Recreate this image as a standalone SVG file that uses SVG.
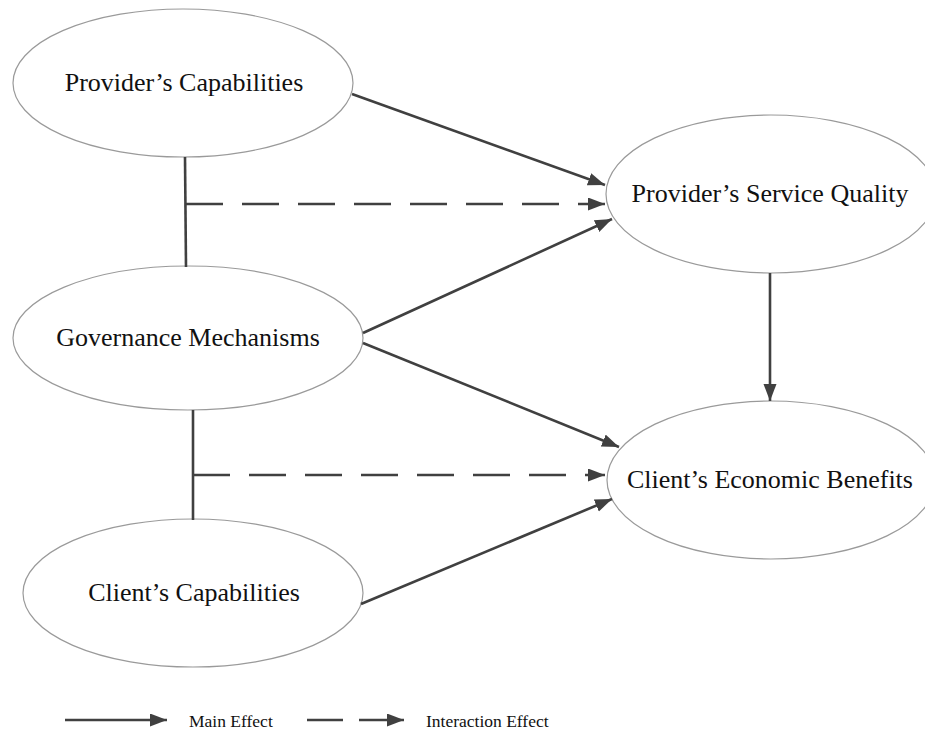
<svg xmlns="http://www.w3.org/2000/svg" width="925" height="731" viewBox="0 0 925 731">
<style>
.node ellipse{fill:#fff;stroke:#9a9a9a;stroke-width:1.2}
.node text{font-family:"Liberation Serif","Times New Roman",serif;font-size:26px;fill:#111;text-anchor:middle}
.c{stroke:#404040;stroke-width:2.6;fill:none}
.d{stroke-dasharray:37 19}
.leg{font-family:"Liberation Serif","Times New Roman",serif;font-size:17.5px;fill:#111}
</style>
<defs>
<marker id="ah" markerUnits="userSpaceOnUse" markerWidth="18" markerHeight="14" refX="17" refY="6.5" orient="auto">
<path d="M0,0 L17,6.5 L0,13 z" fill="#404040"/>
</marker>
</defs>
<rect width="925" height="731" fill="#fff"/>
<g id="provider-capabilities" class="node">
<ellipse cx="183" cy="83" rx="170" ry="74"/>
<text x="184" y="91">Provider’s Capabilities</text>
</g>
<g id="governance-mechanisms" class="node">
<ellipse cx="188" cy="338" rx="175" ry="72"/>
<text x="188" y="346">Governance Mechanisms</text>
</g>
<g id="client-capabilities" class="node">
<ellipse cx="193" cy="593" rx="170" ry="74"/>
<text x="194" y="601">Client’s Capabilities</text>
</g>
<g id="provider-service-quality" class="node">
<ellipse cx="771" cy="194" rx="165" ry="79"/>
<text x="770" y="202">Provider’s Service Quality</text>
</g>
<g id="client-economic-benefits" class="node">
<ellipse cx="771" cy="480" rx="164" ry="79"/>
<text x="770" y="488">Client’s Economic Benefits</text>
</g>
<g id="connectors">
<line class="c" x1="185" y1="157" x2="186" y2="267"/>
<line class="c d" x1="186" y1="204" x2="605" y2="204" marker-end="url(#ah)"/>
<line class="c" x1="193" y1="410" x2="193" y2="520"/>
<line class="c d" x1="193" y1="475" x2="605" y2="475" marker-end="url(#ah)"/>
<line class="c" x1="352" y1="94" x2="605" y2="185" marker-end="url(#ah)"/>
<line class="c" x1="363" y1="333" x2="612" y2="219" marker-end="url(#ah)"/>
<line class="c" x1="363" y1="343" x2="619" y2="447" marker-end="url(#ah)"/>
<line class="c" x1="361" y1="604" x2="612" y2="499" marker-end="url(#ah)"/>
<line class="c" x1="770" y1="273" x2="770" y2="401" marker-end="url(#ah)"/>
</g>
<g id="legend">
<line class="c" x1="65" y1="720" x2="167" y2="720" marker-end="url(#ah)"/>
<text class="leg" x="189" y="727">Main Effect</text>
<line class="c" x1="307" y1="720" x2="343" y2="720"/>
<line class="c" x1="359" y1="720" x2="404" y2="720" marker-end="url(#ah)"/>
<text class="leg" x="426" y="727">Interaction Effect</text>
</g>
</svg>
